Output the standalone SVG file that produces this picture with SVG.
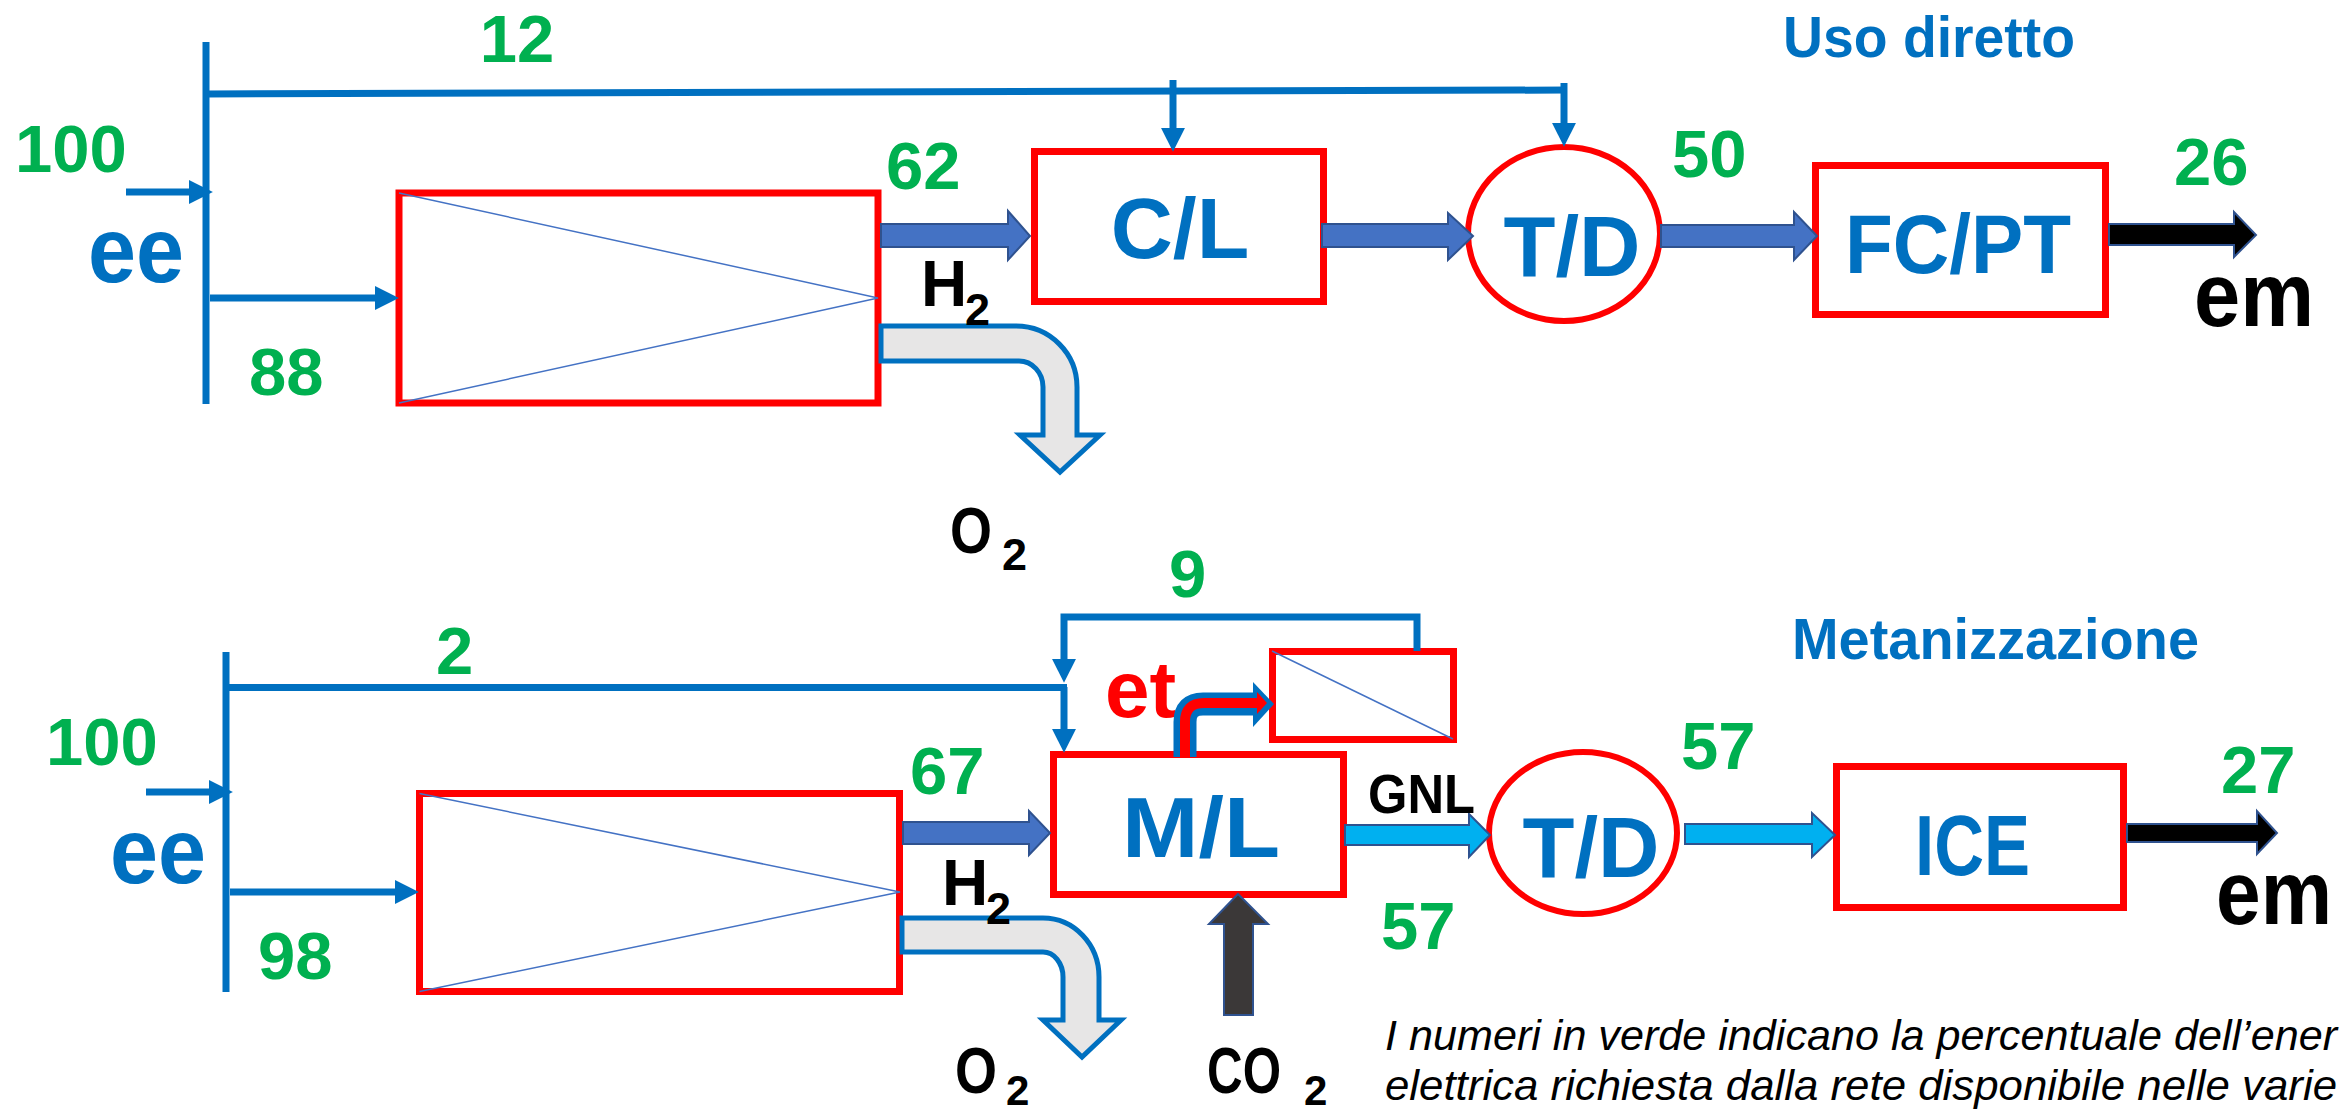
<svg xmlns="http://www.w3.org/2000/svg" width="2343" height="1114" viewBox="0 0 2343 1114">
<defs>
<marker id="ah" markerUnits="userSpaceOnUse" markerWidth="24" markerHeight="24" viewBox="0 0 23 23" refX="3" refY="11.5" orient="auto"><path d="M0,0 L23,11.5 L0,23 Z" fill="#0070C0"/></marker>
</defs>
<style>
text{font-family:"Liberation Sans",Arial,sans-serif;font-weight:bold}
.g{fill:#00B050;font-size:67px}
.b{fill:#0070C0}
.k{fill:#000}
.box{fill:#fff;stroke:#FF0000;stroke-width:7}
.diag{fill:none;stroke:#4472C4;stroke-width:1.5}
.wire{fill:none;stroke:#0070C0;stroke-width:7}
.warr{fill:none;stroke:#0070C0;stroke-width:7;marker-end:url(#ah)}
.blk{fill:#4472C4;stroke:#2F528F;stroke-width:2}
.cy{fill:#00B0F0;stroke:#2F528F;stroke-width:2}
.bk{fill:#000;stroke:#2F528F;stroke-width:2}
.o2{fill:#E7E6E6;stroke:#0070C0;stroke-width:5}
.cap{font-weight:normal;font-style:italic;font-size:43px;fill:#000}
</style>
<rect width="2343" height="1114" fill="#fff"/>

<!-- ===== Uso diretto ===== -->
<g id="bus1">
<line x1="206" y1="42" x2="206" y2="404" class="wire"/>
</g>
<g id="electrolyser1">
<rect x="399" y="193" width="479" height="210" class="box"/>
<polyline points="399,193 878,298 399,403" class="diag"/>
</g>
<g id="cl">
<rect x="1034.5" y="151.5" width="289" height="150" class="box"/>
<text x="1180" y="258" font-size="86" text-anchor="middle" class="b">C/L</text>
</g>
<g id="td1">
<ellipse cx="1564" cy="234" rx="96" ry="87" fill="#fff" stroke="#FF0000" stroke-width="6"/>
<text x="1572" y="276" font-size="85" text-anchor="middle" class="b">T/D</text>
</g>
<g id="fcpt">
<rect x="1815.5" y="165.5" width="290" height="149" class="box"/>
<text x="1845" y="273" font-size="84" textLength="226" lengthAdjust="spacingAndGlyphs" class="b">FC/PT</text>
</g>

<!-- ===== Metanizzazione ===== -->
<g id="bus2">
<line x1="226" y1="652" x2="226" y2="992" class="wire"/>
</g>
<g id="electrolyser2">
<rect x="419.5" y="793.5" width="480" height="198" class="box"/>
<polyline points="419.5,793.5 900,892 419.5,991.5" class="diag"/>
</g>
<g id="ml">
<rect x="1053.5" y="754.5" width="290" height="140" class="box"/>
<text x="1122" y="857" font-size="85" textLength="158" lengthAdjust="spacingAndGlyphs" class="b">M/L</text>
</g>
<g id="et-unit">
<rect x="1272.5" y="651.5" width="181" height="88" class="box"/>
<line x1="1272" y1="651" x2="1453" y2="739" class="diag"/>
</g>
<g id="td2">
<ellipse cx="1583" cy="833" rx="94" ry="81" fill="#fff" stroke="#FF0000" stroke-width="6"/>
<text x="1591" y="877" font-size="85" text-anchor="middle" class="b">T/D</text>
</g>
<g id="ice">
<rect x="1836.5" y="766.5" width="287" height="141" class="box"/>
<text x="1915" y="875" font-size="85" textLength="115" lengthAdjust="spacingAndGlyphs" class="b">ICE</text>
</g>

<!-- ===== connectors ===== -->
<g id="connectors">
<!-- top -->
<path d="M206,94 L1567,90" class="wire"/>
<line x1="1173" y1="80" x2="1173" y2="131" class="warr"/>
<line x1="1564" y1="83" x2="1564" y2="126" class="warr"/>
<line x1="126" y1="192" x2="192" y2="192" class="warr"/>
<line x1="210" y1="298" x2="378" y2="298" class="warr"/>
<path d="M881,224 H1008 V211 L1030,236 L1008,260 V247 H881 Z" class="blk"/>
<path d="M1322,224 H1448 V213 L1473,236 L1448,260 V247 H1322 Z" class="blk"/>
<path d="M1661,225 H1794 V212 L1817,236 L1794,260 V247 H1661 Z" class="blk"/>
<path d="M2109,224 H2234 V212 L2256,235 L2234,257 V245 H2109 Z" class="bk"/>
<path d="M881,326 H1016 A61,61 0 0 1 1077,387 V435 H1100 L1060,472 L1020,435 H1043 V387 A24,26 0 0 0 1019,361 H881 Z" class="o2"/>
<!-- bottom -->
<line x1="226" y1="687.5" x2="1067" y2="687.5" class="wire"/>
<path d="M1417,651 V617 H1064 V662" class="warr"/>
<line x1="1064" y1="687" x2="1064" y2="732" class="warr"/>
<line x1="146" y1="792" x2="212" y2="792" class="warr"/>
<line x1="230" y1="892" x2="398" y2="892" class="warr"/>
<path d="M903,822 H1029 V811 L1050,833 L1029,855 V844 H903 Z" class="blk"/>
<path d="M902,918 H1043 A56,59 0 0 1 1099,977 V1020 H1121 L1082,1057 L1043,1020 H1063 V977 A20,25 0 0 0 1043,952 H902 Z" class="o2"/>
<path d="M1345,825 H1469 V814 L1490,835 L1469,857 V845 H1345 Z" class="cy"/>
<path d="M1685,824 H1812 V813 L1835,835 L1812,857 V844 H1685 Z" class="cy"/>
<path d="M2127,824 H2257 V811 L2277,833 L2257,854 V842 H2127 Z" class="bk"/>
<path d="M1224,1015 V924 H1209 L1238,894 L1268,924 H1253 V1015 Z" fill="#3B3838" stroke="#2F528F" stroke-width="2"/>
</g>

<!-- et heat arrow -->
<g id="et-arrow">
<text x="1105" y="717" font-size="80" fill="#FF0000">et</text>
<path d="M1185,757 V722 Q1185,704 1203,704 H1256" fill="none" stroke="#0070C0" stroke-width="23"/>
<polygon points="1253,682 1274,704 1253,727" fill="#0070C0"/>
<path d="M1185,757 V722 Q1185,703 1204,703 H1258" fill="none" stroke="#FF0000" stroke-width="10"/>
<polygon points="1257,692 1267,703 1257,714" fill="#FF0000"/>
</g>

<!-- ===== labels ===== -->
<g id="labels">
<text x="517" y="62" text-anchor="middle" class="g">12</text>
<text x="15" y="172" class="g">100</text>
<text x="88" y="282" font-size="92" class="b" textLength="96" lengthAdjust="spacingAndGlyphs">ee</text>
<text x="249" y="395" class="g">88</text>
<text x="886" y="189" class="g">62</text>
<text x="921" y="306" font-size="64" class="k">H<tspan x="965" y="325" font-size="45">2</tspan></text>
<text x="950" y="553" font-size="64" class="k"><tspan textLength="42" lengthAdjust="spacingAndGlyphs">O</tspan><tspan x="1002" y="570" font-size="45">2</tspan></text>
<text x="1672" y="177" class="g">50</text>
<text x="2174" y="185" class="g">26</text>
<text x="2194" y="326" font-size="90" class="k" textLength="120" lengthAdjust="spacingAndGlyphs">em</text>
<text x="1783" y="57" font-size="57" class="b" textLength="292" lengthAdjust="spacingAndGlyphs">Uso diretto</text>

<text x="436" y="674" class="g">2</text>
<text x="46" y="765" class="g">100</text>
<text x="110" y="883" font-size="92" class="b" textLength="96" lengthAdjust="spacingAndGlyphs">ee</text>
<text x="258" y="979" class="g">98</text>
<text x="910" y="794" class="g">67</text>
<text x="942" y="905" font-size="64" class="k">H<tspan x="986" y="924" font-size="45">2</tspan></text>
<text x="955" y="1093" font-size="64" class="k"><tspan textLength="42" lengthAdjust="spacingAndGlyphs">O</tspan><tspan x="1006" y="1105" font-size="42">2</tspan></text>
<text x="1169" y="597" class="g">9</text>
<text x="1368" y="813" font-size="55" class="k" textLength="107" lengthAdjust="spacingAndGlyphs">GNL</text>
<text x="1681" y="769" class="g">57</text>
<text x="1381" y="949" class="g">57</text>
<text x="2221" y="793" class="g">27</text>
<text x="2216" y="924" font-size="90" class="k" textLength="116" lengthAdjust="spacingAndGlyphs">em</text>
<text x="1792" y="659" font-size="57" class="b" textLength="407" lengthAdjust="spacingAndGlyphs">Metanizzazione</text>
<text x="1207" y="1093" font-size="64" class="k"><tspan textLength="74" lengthAdjust="spacingAndGlyphs">CO</tspan><tspan x="1304" y="1105" font-size="42">2</tspan></text>
<text x="1385" y="1050" class="cap" textLength="952" lengthAdjust="spacingAndGlyphs">I numeri in verde indicano la percentuale dell’ener</text>
<text x="1385" y="1100" class="cap" textLength="952" lengthAdjust="spacingAndGlyphs">elettrica richiesta dalla rete disponibile nelle varie</text>
</g>
</svg>
